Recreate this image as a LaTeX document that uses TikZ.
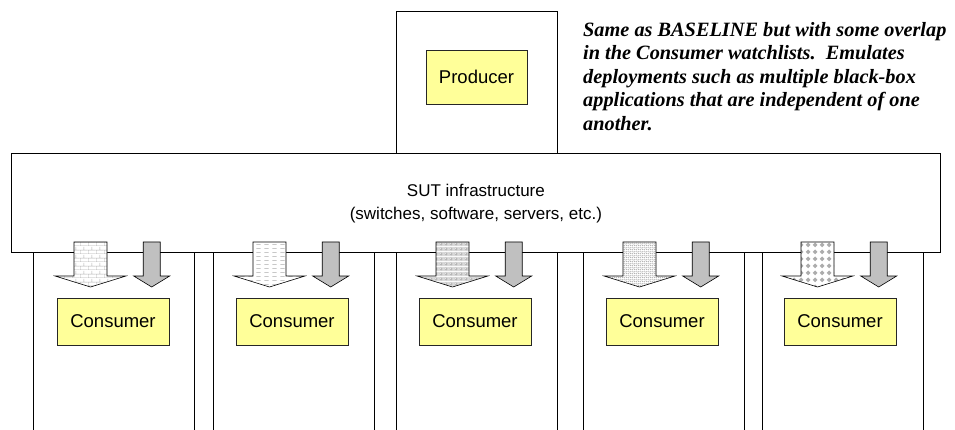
\documentclass[tikz,border=0pt]{standalone}
\usepackage{fontspec}
\setmainfont{Liberation Sans}
\newfontfamily\notefont{Liberation Serif}
\usetikzlibrary{patterns.meta}

\definecolor{boxyellow}{HTML}{FFFF99}
\definecolor{arrowgray}{HTML}{C0C0C0}

% fill textures for the five watchlist arrows
\tikzdeclarepattern{
  name=brickwall, type=colored,
  bounding box={(0pt,0pt) and (8pt,8pt)}, tile size={(8pt,8pt)},
  code={
    \fill[white] (0pt,0pt) rectangle (8pt,8pt);
    \draw[gray!60, line width=0.5pt] (0pt,0.3pt) -- (8pt,0.3pt) (0pt,4.3pt) -- (8pt,4.3pt)
      (0.3pt,0.3pt) -- (0.3pt,4.3pt) (4.3pt,4.3pt) -- (4.3pt,8pt);
  }}
\tikzdeclarepattern{
  name=dashlines, type=colored,
  bounding box={(0pt,0pt) and (8pt,4pt)}, tile size={(8pt,4pt)},
  code={
    \fill[white] (0pt,0pt) rectangle (8pt,4pt);
    \draw[gray!65, line width=0.5pt] (0.5pt,2pt) -- (5pt,2pt);
  }}
\tikzdeclarepattern{
  name=spheres, type=colored,
  bounding box={(0pt,0pt) and (4.5pt,4.5pt)}, tile size={(4.5pt,4.5pt)},
  code={
    \fill[gray!30] (0pt,0pt) rectangle (4.5pt,4.5pt);
    \fill[gray!58] (2.25pt,2.25pt) circle (1.7pt);
    \fill[gray!12] (1.8pt,2.7pt) circle (0.6pt);
  }}
\tikzdeclarepattern{
  name=speckle, type=colored,
  bounding box={(0pt,0pt) and (4pt,4pt)}, tile size={(4pt,4pt)},
  code={
    \fill[white] (0pt,0pt) rectangle (4pt,4pt);
    \fill[gray!80] (0.6pt,0.6pt) circle (0.55pt) (2.6pt,1.2pt) circle (0.55pt)
      (1.3pt,2.6pt) circle (0.55pt) (3.3pt,3.3pt) circle (0.55pt)
      (3.4pt,0.3pt) circle (0.4pt) (0.3pt,3.6pt) circle (0.4pt);
  }}
\tikzdeclarepattern{
  name=diamonds, type=colored,
  bounding box={(0pt,0pt) and (7pt,7pt)}, tile size={(7pt,7pt)},
  code={
    \fill[white] (0pt,0pt) rectangle (7pt,7pt);
    \fill[gray!65] (3.5pt,0.8pt) -- (6.2pt,3.5pt) -- (3.5pt,6.2pt) -- (0.8pt,3.5pt) -- cycle;
  }}

\tikzset{
  frame/.style={draw=black, fill=white, line width=0.8pt, inner sep=0pt},
  yellowbox/.style={draw=black!85, fill=boxyellow, line width=0.8pt, inner sep=0pt,
    minimum width=112pt, minimum height=47pt, font=\fontsize{18.5}{21}\selectfont},
  pics/bigarrow/.style={code={
    \draw[line width=0.6pt, pattern=#1] (-16.5,0) -- (16.5,0) -- (16.5,34) -- (35.5,34)
      -- (0,45) -- (-35.5,34) -- (-16.5,34) -- cycle;}},
  pics/grayarrow/.style={code={
    \draw[line width=0.6pt, fill=arrowgray] (-8.5,0) -- (8.5,0) -- (8.5,34) -- (18,34)
      -- (0,45) -- (-18,34) -- (-8.5,34) -- cycle;}},
}

\begin{document}
\begin{tikzpicture}[x=1pt, y=-1pt]
\useasboundingbox (0,0) rectangle (955,430);

% consumer hosts below the infrastructure
\foreach \cx/\n in {33/1, 213/2, 396/3, 583/4, 762/5}
  \node[frame, minimum width=160.5pt, minimum height=190pt, anchor=north west] (host\n) at (\cx,252.5) {};

% producer host above the infrastructure
\node[frame, minimum width=161pt, minimum height=142pt, anchor=north west] (prodhost) at (396,11) {};
\node[yellowbox, minimum width=101pt, minimum height=54pt] (producer) at (476.5,77) {Producer};

% SUT infrastructure
\node[frame, minimum width=929pt, minimum height=99.5pt, anchor=north west,
  align=center, font=\fontsize{17}{23}\selectfont] (sut) at (11,153)
  {SUT infrastructure\\(switches, software, servers, etc.)};

% consumers
\foreach \c/\n in {113/1, 292/2, 475/3, 662/4, 840/5}
  \node[yellowbox] (consumer\n) at (\c,321.5) {Consumer};

% watchlist arrows above each consumer
\pic at ([xshift=-22.5pt] consumer1.center |- 0,242) {bigarrow=brickwall};
\pic at ([xshift=-22.5pt] consumer2.center |- 0,242) {bigarrow=dashlines};
\pic at ([xshift=-22.5pt] consumer3.center |- 0,242) {bigarrow=spheres};
\pic at ([xshift=-22.5pt] consumer4.center |- 0,242) {bigarrow=speckle};
\pic at ([xshift=-22.5pt] consumer5.center |- 0,242) {bigarrow=diamonds};
\foreach \n in {1,...,5}
  \pic at ([xshift=38.7pt] consumer\n.center |- 0,242) {grayarrow};

% scenario note
\node[anchor=north west, inner sep=0pt, align=left,
  font=\notefont\bfseries\itshape\fontsize{20.3}{23.5}\selectfont] (note) at (583,22)
  {Same as BASELINE but with some overlap\\
   in the Consumer watchlists.\ \ Emulates\\
   deployments such as multiple black-box\\
   applications that are independent of one\\
   another.};
\end{tikzpicture}
\end{document}
